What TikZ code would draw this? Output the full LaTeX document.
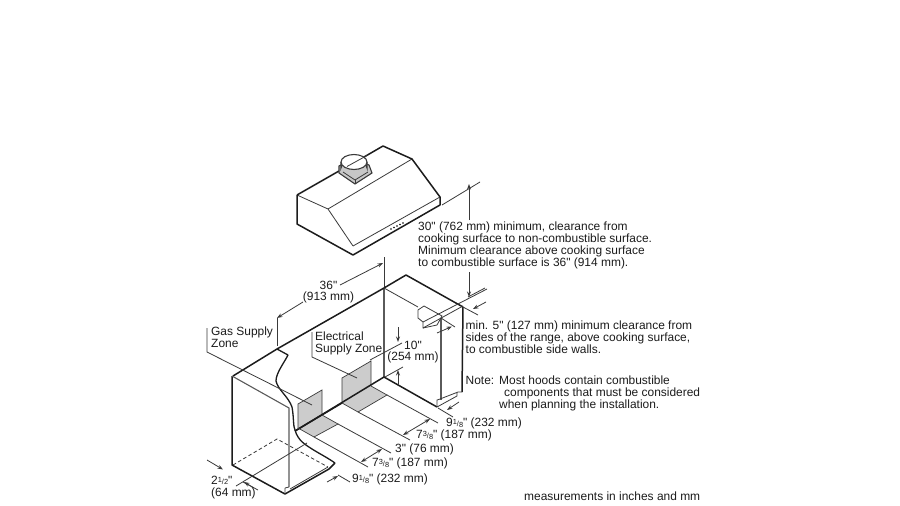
\documentclass[tikz,border=0pt]{standalone}
\usepackage{fontspec}
\newfontfamily\lab{Liberation Sans}
\usetikzlibrary{arrows.meta}
\definecolor{ink}{HTML}{1C1C1C}
\definecolor{thin}{HTML}{3A3A3A}
\definecolor{midgray}{HTML}{5A5A5A}
\definecolor{panel}{HTML}{CCCCCC}
\newcommand{\frc}[2]{{\fontsize{7.4}{7}\selectfont\raisebox{2.2pt}{#1}/\raisebox{-0.3pt}{#2}}}
\tikzset{
  heavy/.style={draw=ink,line width=1.5pt,line join=round},
  fine/.style={draw=thin,line width=0.8pt},
  mid/.style={draw=midgray,line width=1.1pt},
  shade/.style={draw=thin,line width=0.7pt},
  dim/.style={draw=thin,line width=0.8pt,-{Stealth[length=5.5pt,width=4pt]}},
  dimboth/.style={draw=thin,line width=0.8pt,{Stealth[length=5.5pt,width=4pt]}-{Stealth[length=5.5pt,width=4pt]}},
  txt/.style={font=\lab\fontsize{11.95}{11.8}\selectfont,text=ink,inner sep=0pt,align=left,anchor=north west},
  txtc/.style={font=\lab\fontsize{11.95}{11.8}\selectfont,text=ink,inner sep=0pt,align=center,anchor=center}
}
\begin{document}
\begin{tikzpicture}[x=1pt,y=-1pt]
\useasboundingbox (0,0) rectangle (900,506);
\fill[white] (0,0) rectangle (900,506);
% ---- hood
\draw[fine] (297,195) -- (328,209) -- (353,246);
\draw[fine] (328,209) -- (412,159);
\draw[fine] (353,246) -- (440,197);
\draw[heavy] (297,195) -- (339,171);
\draw[heavy] (364,157) -- (383,146) -- (412,159) -- (440,197) -- (440,205) -- (353,255) -- (297,224) -- (297,195);
% vent
\draw[mid,draw=thin,fill=black!22] (339,166) -- (339,173) -- (355,184) -- (372,173) -- (369,165) -- (354,158) -- cycle;
\draw[fine] (343,172) -- (355,180) -- (368,172);
\draw[fine] (355,180) -- (355,184);
\draw[mid,draw=thin,fill=white] (341,162) -- (341,168) arc[start angle=180,end angle=360,x radius=13,y radius=7.5] -- (367,162);
\draw[mid,draw=thin,fill=white] (354,162) ellipse[x radius=13,y radius=7.5];
\draw[fine] (347,166.5) -- (367,155.5);
\foreach \px/\py in {391/229,394/227.5,397/226,400/224.5,403/223}{\fill[thin] (\px,\py) circle[radius=0.8];}
% ---- gray panels
\fill[panel] (298,404) -- (322,390) -- (322,415) -- (338,424) -- (314,437) -- (298,428) -- cycle;
\fill[panel] (342,378) -- (371,361) -- (371,386) -- (387,395) -- (358,412) -- (342,403) -- cycle;
\draw[shade] (298,428) -- (298,404) -- (322,390) -- (322,415);
\draw[shade] (342,403) -- (342,378) -- (371,361) -- (371,386);
% ---- counter outline
\draw[fine] (384,257) -- (384,288);
\draw[mid] (384,288) -- (384,377);
\draw[heavy] (233,376) -- (277,349) (277,349) -- (384,288) -- (406,275) -- (463,307);
\draw[heavy] (295,431) -- (384,377) -- (437,407);
\draw[heavy] (463,307) -- (462,392);
\draw[fine] (384,288) -- (418,307);
\draw[mid] (441,318) -- (441,400);
\draw[fine] (437,407) -- (437,400) -- (440,399) -- (458,392) -- (462,392) (437,407) -- (457,396) -- (457,392);
% hood knob / bracket
\draw[fine,fill=white] (418,310) -- (424,306) -- (442,316) -- (437,325) -- (423,328) -- (423,322) -- (418,318) -- cycle;
\draw[fine] (423,328) -- (463,306);
\draw[fine] (423,322) -- (487,289);
\draw[fine] (441,318) -- (455,327);
\draw[fine] (463,307) -- (478,315);
\draw[dim] (437,333) -- (452,326.5);
\draw[dim] (486,302) -- (473,309);
% left cabinet
\draw[heavy] (232,376) -- (232,465) -- (285,494) -- (329,469) -- (335,463);
\draw[mid] (232,376) -- (289,408) -- (289,487);
\draw[fine] (285,488) -- (289,487) (290,489) -- (328,467) (285,488) -- (285,494);
\draw[fine,dash pattern=on 3.5pt off 2.5pt] (233,465) -- (277,439) -- (328,467);
% break curve
\draw[heavy,line width=1.3pt] (277,349) -- (288,355) .. controls (284,363) and (276,373) .. (276,381)
  .. controls (278,390) and (288,396) .. (292,407) .. controls (294,418) and (293,426) .. (295,430)
  .. controls (298,441) and (306,445) .. (312,449) .. controls (320,454) and (328,458) .. (335,463);
% wall base segment
\draw[heavy] (295,431) -- (342,403);
% ---- leaders
\draw[fine] (207,328) -- (207,352) -- (312,405);
\draw[fine] (312,332) -- (312,357) -- (357,378);
% ---- floor dimension lines
\draw[fine] (387,395) -- (438,423);
\draw[fine] (358,412) -- (410,440);
\draw[fine] (338,424) -- (391,453);
\draw[fine] (314,437) -- (368,467);
\draw[fine] (338,475) -- (350,482);
\draw[fine] (438,408) -- (453,417);
\draw[dim] (207,460) -- (223,469.5);
\draw[fine] (236,486) -- (307,443);
\draw[fine] (243,482) -- (258,490);
\draw[shade] (322,415) -- (338,424) -- (314,437) -- (298,428);
\draw[shade] (371,386) -- (387,395) -- (358,412) -- (342,403);
\draw[dimboth] (403,435) -- (430,419);
\draw[dimboth] (361,462) -- (382,449);
\draw[dim] (327,482) -- (338,476);
\draw[dim] (459,402) -- (447,410);
\draw[dim] (254,488) -- (244,482);
% ---- upper dimensions
\draw[fine] (442,205) -- (480,182);
\draw[fine] (468,297) -- (485,288);
\draw[dim] (469,220) -- (469,184);
\draw[dim] (469,272) -- (469,297);
\draw[fine] (277,318) -- (277,346);
\draw[dim] (303,302) -- (277,318);
\draw[dim] (340,285) -- (383,263);
\draw[fine] (370,360) -- (402,343);
\draw[fine] (385,377) -- (403,367);
\draw[dim] (398,327) -- (398,342);
\draw[dim] (398,385) -- (398,370);
% ---- texts
\node[txt] (clear) at (418,222) {30" (762 mm) minimum, clearance from\\cooking surface to non-combustible surface.\\Minimum clearance above cooking surface\\to combustible surface is 36" (914 mm).};
\node[txtc] (w36) at (328.5,292) {36"\\(913 mm)};
\node[txt] (gas) at (211,327) {Gas Supply\\Zone};
\node[txt] (elec) at (315,332) {Electrical\\Supply Zone};
\node[txtc] (h10) at (413,352) {10"\\(254 mm)};
\node[txt] (min5) at (465.5,321) {min. 5" (127 mm) minimum clearance from\\sides of the range, above cooking surface,\\to combustible side walls.};
\node[txt] (note) at (465.5,376) {Note:};
\node[txt] (notetext) at (499,376) {Most hoods contain combustible\\\hspace*{5pt}components that must be considered\\when planning the installation.};
\node[txt] (a1) at (446,418) {9\frc{1}{8}" (232 mm)};
\node[txt] (a2) at (416,430) {7\frc{3}{8}" (187 mm)};
\node[txt] (a3) at (395,444) {3" (76 mm)};
\node[txt] (a4) at (372,458) {7\frc{3}{8}" (187 mm)};
\node[txt] (a5) at (352,474) {9\frc{1}{8}" (232 mm)};
\node[txt] (a6) at (211,476) {2\frc{1}{2}"\\(64 mm)};
\node[txt] (meas) at (524,492) {measurements in inches and mm};
\end{tikzpicture}
\end{document}
